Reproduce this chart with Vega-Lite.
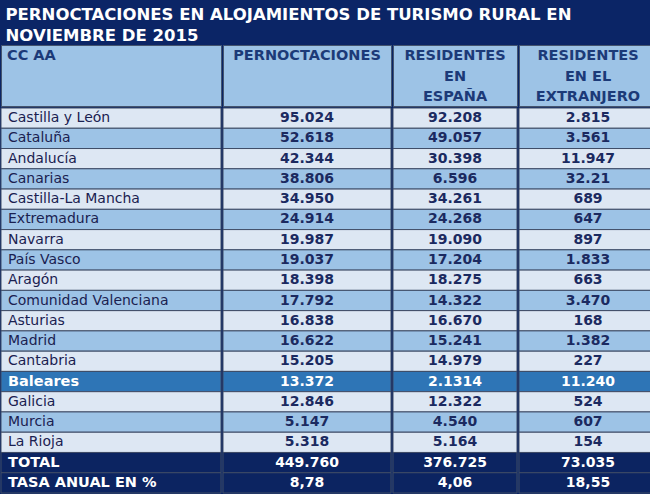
{
  "$schema": "https://vega.github.io/schema/vega-lite/v6.json",
  "padding": {"top": 6, "left": 0, "right": 0, "bottom": 0},
  "background": "#0b2566",
  "spacing": 0,
  "title": {
    "text": "PERNOCTACIONES EN ALOJAMIENTOS DE TURISMO RURAL EN",
    "subtitle": "NOVIEMBRE DE 2015",
    "anchor": "start",
    "color": "#ffffff",
    "font": "DejaVu Sans",
    "fontSize": 16.5,
    "fontWeight": "bold",
    "subtitleColor": "#ffffff",
    "subtitleFont": "DejaVu Sans",
    "subtitleFontSize": 16.5,
    "subtitleFontWeight": "bold",
    "subtitlePadding": 5,
    "offset": 0,
    "dx": 5
  },
  "config": {
    "view": {"stroke": null},
    "concat": {"spacing": 0},
    "font": "DejaVu Sans"
  },
  "datasets": {
    "header": [
      {"col": "region", "line": 1, "label": "CC AA"},
      {"col": "pernoctaciones", "line": 1, "label": "PERNOCTACIONES"},
      {"col": "espana", "line": 1, "label": "RESIDENTES"},
      {"col": "espana", "line": 2, "label": "EN"},
      {"col": "espana", "line": 3, "label": "ESPAÑA"},
      {"col": "extranjero", "line": 1, "label": "RESIDENTES"},
      {"col": "extranjero", "line": 2, "label": "EN EL"},
      {"col": "extranjero", "line": 3, "label": "EXTRANJERO"}
    ],
    "rows": [
      {"region": "Castilla y León", "pernoctaciones": "95.024", "espana": "92.208", "extranjero": "2.815"},
      {"region": "Cataluña", "pernoctaciones": "52.618", "espana": "49.057", "extranjero": "3.561"},
      {"region": "Andalucía", "pernoctaciones": "42.344", "espana": "30.398", "extranjero": "11.947"},
      {"region": "Canarias", "pernoctaciones": "38.806", "espana": "6.596", "extranjero": "32.21"},
      {"region": "Castilla-La Mancha", "pernoctaciones": "34.950", "espana": "34.261", "extranjero": "689"},
      {"region": "Extremadura", "pernoctaciones": "24.914", "espana": "24.268", "extranjero": "647"},
      {"region": "Navarra", "pernoctaciones": "19.987", "espana": "19.090", "extranjero": "897"},
      {"region": "País Vasco", "pernoctaciones": "19.037", "espana": "17.204", "extranjero": "1.833"},
      {"region": "Aragón", "pernoctaciones": "18.398", "espana": "18.275", "extranjero": "663"},
      {"region": "Comunidad Valenciana", "pernoctaciones": "17.792", "espana": "14.322", "extranjero": "3.470"},
      {"region": "Asturias", "pernoctaciones": "16.838", "espana": "16.670", "extranjero": "168"},
      {"region": "Madrid", "pernoctaciones": "16.622", "espana": "15.241", "extranjero": "1.382"},
      {"region": "Cantabria", "pernoctaciones": "15.205", "espana": "14.979", "extranjero": "227"},
      {"region": "Baleares", "pernoctaciones": "13.372", "espana": "2.1314", "extranjero": "11.240"},
      {"region": "Galicia", "pernoctaciones": "12.846", "espana": "12.322", "extranjero": "524"},
      {"region": "Murcia", "pernoctaciones": "5.147", "espana": "4.540", "extranjero": "607"},
      {"region": "La Rioja", "pernoctaciones": "5.318", "espana": "5.164", "extranjero": "154"},
      {"region": "TOTAL", "pernoctaciones": "449.760", "espana": "376.725", "extranjero": "73.035"},
      {"region": "TASA ANUAL EN %", "pernoctaciones": "8,78", "espana": "4,06", "extranjero": "18,55"}
    ]
  },
  "vconcat": [
    {
      "spacing": 0,
      "hconcat": [
        {
          "width": 220, "height": 61,
          "view": {"fill": "#9dc3e6", "stroke": "#44546e", "strokeWidth": 1},
          "data": {"name": "header"},
          "transform": [{"filter": "datum.col === 'region'"}],
          "mark": {"type": "text", "align": "left", "baseline": "middle", "dx": 6, "dy": 1, "fontWeight": "bold", "fontSize": 14.5, "color": "#1c3a78"},
          "encoding": {
            "x": {"datum": 0, "type": "quantitative", "scale": {"domain": [0, 1]}, "axis": null},
            "y": {"field": "line", "type": "ordinal", "axis": null, "scale": {"domain": [1, 2, 3]}},
            "text": {"field": "label"}
          }
        },
        {
          "width": 168, "height": 61,
          "view": {"fill": "#9dc3e6", "stroke": "#44546e", "strokeWidth": 1},
          "data": {"name": "header"},
          "transform": [{"filter": "datum.col === 'pernoctaciones'"}],
          "mark": {"type": "text", "align": "center", "baseline": "middle", "dy": 1, "fontWeight": "bold", "fontSize": 14.5, "color": "#1c3a78"},
          "encoding": {
            "x": {"datum": 0.5, "type": "quantitative", "scale": {"domain": [0, 1]}, "axis": null},
            "y": {"field": "line", "type": "ordinal", "axis": null, "scale": {"domain": [1, 2, 3]}},
            "text": {"field": "label"}
          }
        },
        {
          "width": 124, "height": 61,
          "view": {"fill": "#9dc3e6", "stroke": "#44546e", "strokeWidth": 1},
          "data": {"name": "header"},
          "transform": [{"filter": "datum.col === 'espana'"}],
          "mark": {"type": "text", "align": "center", "baseline": "middle", "dy": 1, "fontWeight": "bold", "fontSize": 14.5, "color": "#1c3a78"},
          "encoding": {
            "x": {"datum": 0.5, "type": "quantitative", "scale": {"domain": [0, 1]}, "axis": null},
            "y": {"field": "line", "type": "ordinal", "axis": null, "scale": {"domain": [1, 2, 3]}},
            "text": {"field": "label"}
          }
        },
        {
          "width": 138, "height": 61,
          "view": {"fill": "#9dc3e6", "stroke": "#44546e", "strokeWidth": 1},
          "data": {"name": "header"},
          "transform": [{"filter": "datum.col === 'extranjero'"}],
          "mark": {"type": "text", "align": "center", "baseline": "middle", "dy": 1, "fontWeight": "bold", "fontSize": 14.5, "color": "#1c3a78"},
          "encoding": {
            "x": {"datum": 0.5, "type": "quantitative", "scale": {"domain": [0, 1]}, "axis": null},
            "y": {"field": "line", "type": "ordinal", "axis": null, "scale": {"domain": [1, 2, 3]}},
            "text": {"field": "label"}
          }
        }
      ]
    },
    {
      "spacing": 0,
      "hconcat": [
        {
          "width": 220, "height": 385,
          "data": {"name": "rows"},
          "transform": [{"window": [{"op": "row_number", "as": "idx"}]}],
          "encoding": {
            "y": {"field": "region", "type": "nominal", "sort": null, "axis": null, "scale": {"paddingInner": 0, "paddingOuter": 0}}
          },
          "layer": [
            {
              "mark": {"type": "rect", "stroke": "#3f4c66", "strokeWidth": 1},
              "encoding": {
                "x": {"datum": 0, "type": "quantitative", "scale": {"domain": [0, 1]}, "axis": null},
                "x2": {"datum": 1},
                "fill": {
                  "condition": [
                    {"test": "datum.region === 'TOTAL' || datum.region === 'TASA ANUAL EN %'", "value": "#0c2461"},
                    {"test": "datum.region === 'Baleares'", "value": "#2e75b6"},
                    {"test": "datum.idx % 2 === 0", "value": "#9dc3e6"}
                  ],
                  "value": "#dde7f3"
                }
              }
            },
            {
              "transform": [{"filter": "datum.region !== 'TOTAL' && datum.region !== 'TASA ANUAL EN %' && datum.region !== 'Baleares'"}],
              "mark": {"type": "text", "align": "left", "baseline": "middle", "dx": 7, "fontSize": 14, "color": "#1a2150"},
              "encoding": {
                "x": {"datum": 0, "type": "quantitative"},
                "text": {"field": "region"}
              }
            },
            {
              "transform": [{"filter": "datum.region === 'TOTAL' || datum.region === 'TASA ANUAL EN %' || datum.region === 'Baleares'"}],
              "mark": {"type": "text", "align": "left", "baseline": "middle", "dx": 7, "fontSize": 14.5, "fontWeight": "bold", "color": "#ffffff"},
              "encoding": {
                "x": {"datum": 0, "type": "quantitative"},
                "text": {"field": "region"}
              }
            }
          ]
        },
        {
          "width": 168, "height": 385,
          "data": {"name": "rows"},
          "transform": [{"window": [{"op": "row_number", "as": "idx"}]}],
          "encoding": {
            "y": {"field": "region", "type": "nominal", "sort": null, "axis": null, "scale": {"paddingInner": 0, "paddingOuter": 0}}
          },
          "layer": [
            {
              "mark": {"type": "rect", "stroke": "#3f4c66", "strokeWidth": 1},
              "encoding": {
                "x": {"datum": 0, "type": "quantitative", "scale": {"domain": [0, 1]}, "axis": null},
                "x2": {"datum": 1},
                "fill": {
                  "condition": [
                    {"test": "datum.region === 'TOTAL' || datum.region === 'TASA ANUAL EN %'", "value": "#0c2461"},
                    {"test": "datum.region === 'Baleares'", "value": "#2e75b6"},
                    {"test": "datum.idx % 2 === 0", "value": "#9dc3e6"}
                  ],
                  "value": "#dde7f3"
                }
              }
            },
            {
              "mark": {"type": "text", "align": "center", "baseline": "middle", "fontSize": 14, "fontWeight": "bold"},
              "encoding": {
                "x": {"datum": 0.5, "type": "quantitative"},
                "text": {"field": "pernoctaciones"},
                "color": {
                  "condition": {"test": "datum.region === 'TOTAL' || datum.region === 'TASA ANUAL EN %' || datum.region === 'Baleares'", "value": "#ffffff"},
                  "value": "#1b2a60"
                }
              }
            }
          ]
        },
        {
          "width": 124, "height": 385,
          "data": {"name": "rows"},
          "transform": [{"window": [{"op": "row_number", "as": "idx"}]}],
          "encoding": {
            "y": {"field": "region", "type": "nominal", "sort": null, "axis": null, "scale": {"paddingInner": 0, "paddingOuter": 0}}
          },
          "layer": [
            {
              "mark": {"type": "rect", "stroke": "#3f4c66", "strokeWidth": 1},
              "encoding": {
                "x": {"datum": 0, "type": "quantitative", "scale": {"domain": [0, 1]}, "axis": null},
                "x2": {"datum": 1},
                "fill": {
                  "condition": [
                    {"test": "datum.region === 'TOTAL' || datum.region === 'TASA ANUAL EN %'", "value": "#0c2461"},
                    {"test": "datum.region === 'Baleares'", "value": "#2e75b6"},
                    {"test": "datum.idx % 2 === 0", "value": "#9dc3e6"}
                  ],
                  "value": "#dde7f3"
                }
              }
            },
            {
              "mark": {"type": "text", "align": "center", "baseline": "middle", "fontSize": 14, "fontWeight": "bold"},
              "encoding": {
                "x": {"datum": 0.5, "type": "quantitative"},
                "text": {"field": "espana"},
                "color": {
                  "condition": {"test": "datum.region === 'TOTAL' || datum.region === 'TASA ANUAL EN %' || datum.region === 'Baleares'", "value": "#ffffff"},
                  "value": "#1b2a60"
                }
              }
            }
          ]
        },
        {
          "width": 138, "height": 385,
          "data": {"name": "rows"},
          "transform": [{"window": [{"op": "row_number", "as": "idx"}]}],
          "encoding": {
            "y": {"field": "region", "type": "nominal", "sort": null, "axis": null, "scale": {"paddingInner": 0, "paddingOuter": 0}}
          },
          "layer": [
            {
              "mark": {"type": "rect", "stroke": "#3f4c66", "strokeWidth": 1},
              "encoding": {
                "x": {"datum": 0, "type": "quantitative", "scale": {"domain": [0, 1]}, "axis": null},
                "x2": {"datum": 1},
                "fill": {
                  "condition": [
                    {"test": "datum.region === 'TOTAL' || datum.region === 'TASA ANUAL EN %'", "value": "#0c2461"},
                    {"test": "datum.region === 'Baleares'", "value": "#2e75b6"},
                    {"test": "datum.idx % 2 === 0", "value": "#9dc3e6"}
                  ],
                  "value": "#dde7f3"
                }
              }
            },
            {
              "mark": {"type": "text", "align": "center", "baseline": "middle", "fontSize": 14, "fontWeight": "bold"},
              "encoding": {
                "x": {"datum": 0.5, "type": "quantitative"},
                "text": {"field": "extranjero"},
                "color": {
                  "condition": {"test": "datum.region === 'TOTAL' || datum.region === 'TASA ANUAL EN %' || datum.region === 'Baleares'", "value": "#ffffff"},
                  "value": "#1b2a60"
                }
              }
            }
          ]
        }
      ]
    }
  ]
}
